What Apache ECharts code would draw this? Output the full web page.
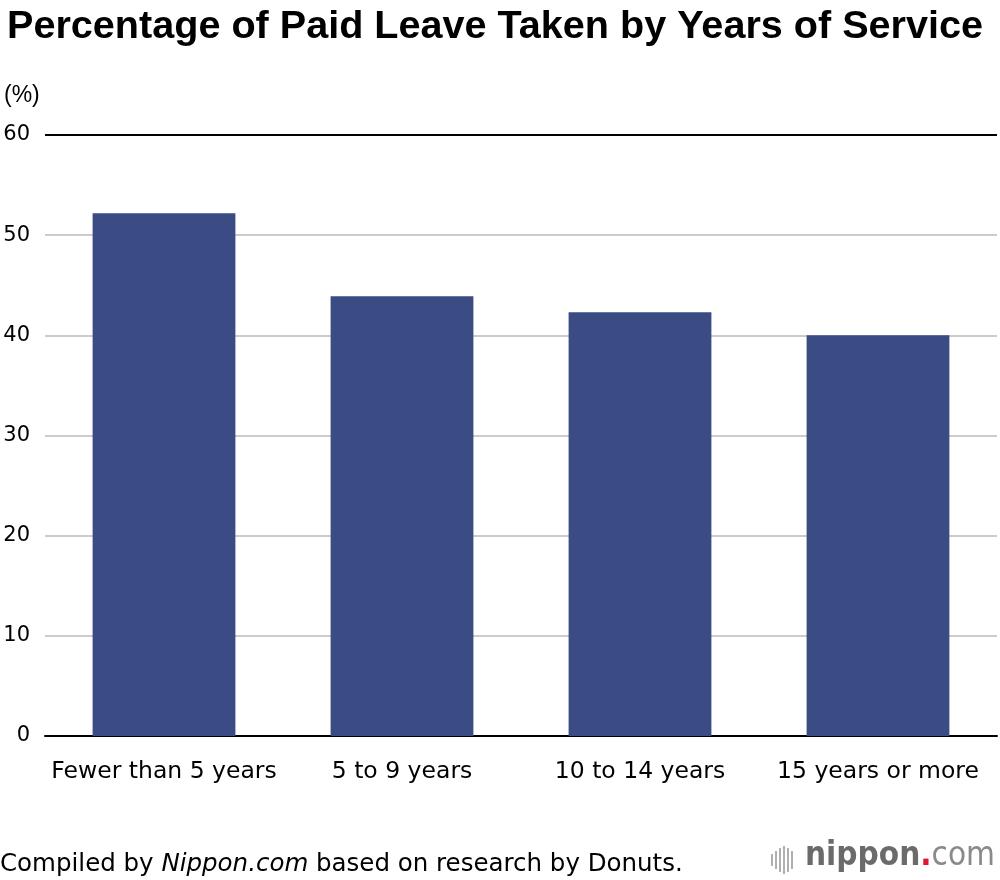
<!DOCTYPE html>
<html><head><meta charset="utf-8">
<script src="https://cdn.jsdelivr.net/npm/echarts@6/dist/echarts.min.js"></script>
<style>html,body{margin:0;padding:0;background:#fff}#c{width:1000px;height:880px}</style>
</head><body><div id="c"></div>
<script>
const categories = ['Fewer than 5 years', '5 to 9 years', '10 to 14 years', '15 years or more'];
const values = [52.2, 43.9, 42.3, 40.0];
const yTicks = [0, 10, 20, 30, 40, 50, 60];

const chart = echarts.init(document.getElementById('c'));
const F = '"DejaVu Sans", "Liberation Sans", Arial, sans-serif';
const iconBars = [[771,12],[775,18],[779,24],[783,28],[787,24],[791,18]];
const graphics = [
  { type: 'text', left: 7, top: 7, style: { text: 'Percentage of Paid Leave Taken by Years of Service', font: 'bold 39.6px "Liberation Sans", Arial, sans-serif', fill: '#000' } },
  { type: 'text', left: 4, top: 84, style: { text: '(%)', font: '23px "Liberation Sans", Arial, sans-serif', fill: '#000' } },
  { type: 'text', left: 0, top: 852, style: { text: '{r|Compiled by }{i|Nippon.com}{r| based on research by Donuts.}', rich: { r: { font: '24.5px ' + F, fill: '#000' }, i: { font: 'italic 24.5px ' + F, fill: '#000' } } } },
  { type: 'text', right: 5, top: 840, style: { text: '{a|nippon}{b|.}{c|com}', rich: { a: { font: 'bold 33px "DejaVu Sans Condensed", "DejaVu Sans", sans-serif', fill: '#6b6b6b' }, b: { font: 'bold 33px "DejaVu Sans Condensed", "DejaVu Sans", sans-serif', fill: '#e0182d' }, c: { font: '33px "DejaVu Sans Condensed", "DejaVu Sans", sans-serif', fill: '#8a8a8a' } } } }
];
iconBars.forEach(([x, h]) => graphics.push({ type: 'rect', shape: { x: x, y: 860 - h / 2, width: 2, height: h }, style: { fill: '#b0b0b0' } }));

chart.setOption({
  animation: false,
  grid: { left: 45, right: 3, top: 135, bottom: 144, containLabel: false },
  xAxis: {
    type: 'category', data: categories,
    axisLine: { show: true, lineStyle: { color: '#000', width: 2 } },
    axisTick: { show: false },
    axisLabel: { interval: 0, color: '#000', fontSize: 23.5, fontFamily: F, margin: 24 }
  },
  yAxis: {
    type: 'value', min: 0, max: 60, interval: 10,
    axisLine: { show: false }, axisTick: { show: false },
    axisLabel: { color: '#000', fontSize: 21, fontFamily: F, align: 'right', margin: 15,
      formatter: v => yTicks.includes(v) ? String(v) : '' },
    splitLine: { lineStyle: { color: ['#000', '#cccccc', '#cccccc', '#cccccc', '#cccccc', '#cccccc', '#000'], width: 2 } }
  },
  series: [{
    type: 'bar', data: values, barWidth: '60%',
    itemStyle: { color: '#3b4b84' }
  }],
  graphic: graphics
});
</script></body></html>
